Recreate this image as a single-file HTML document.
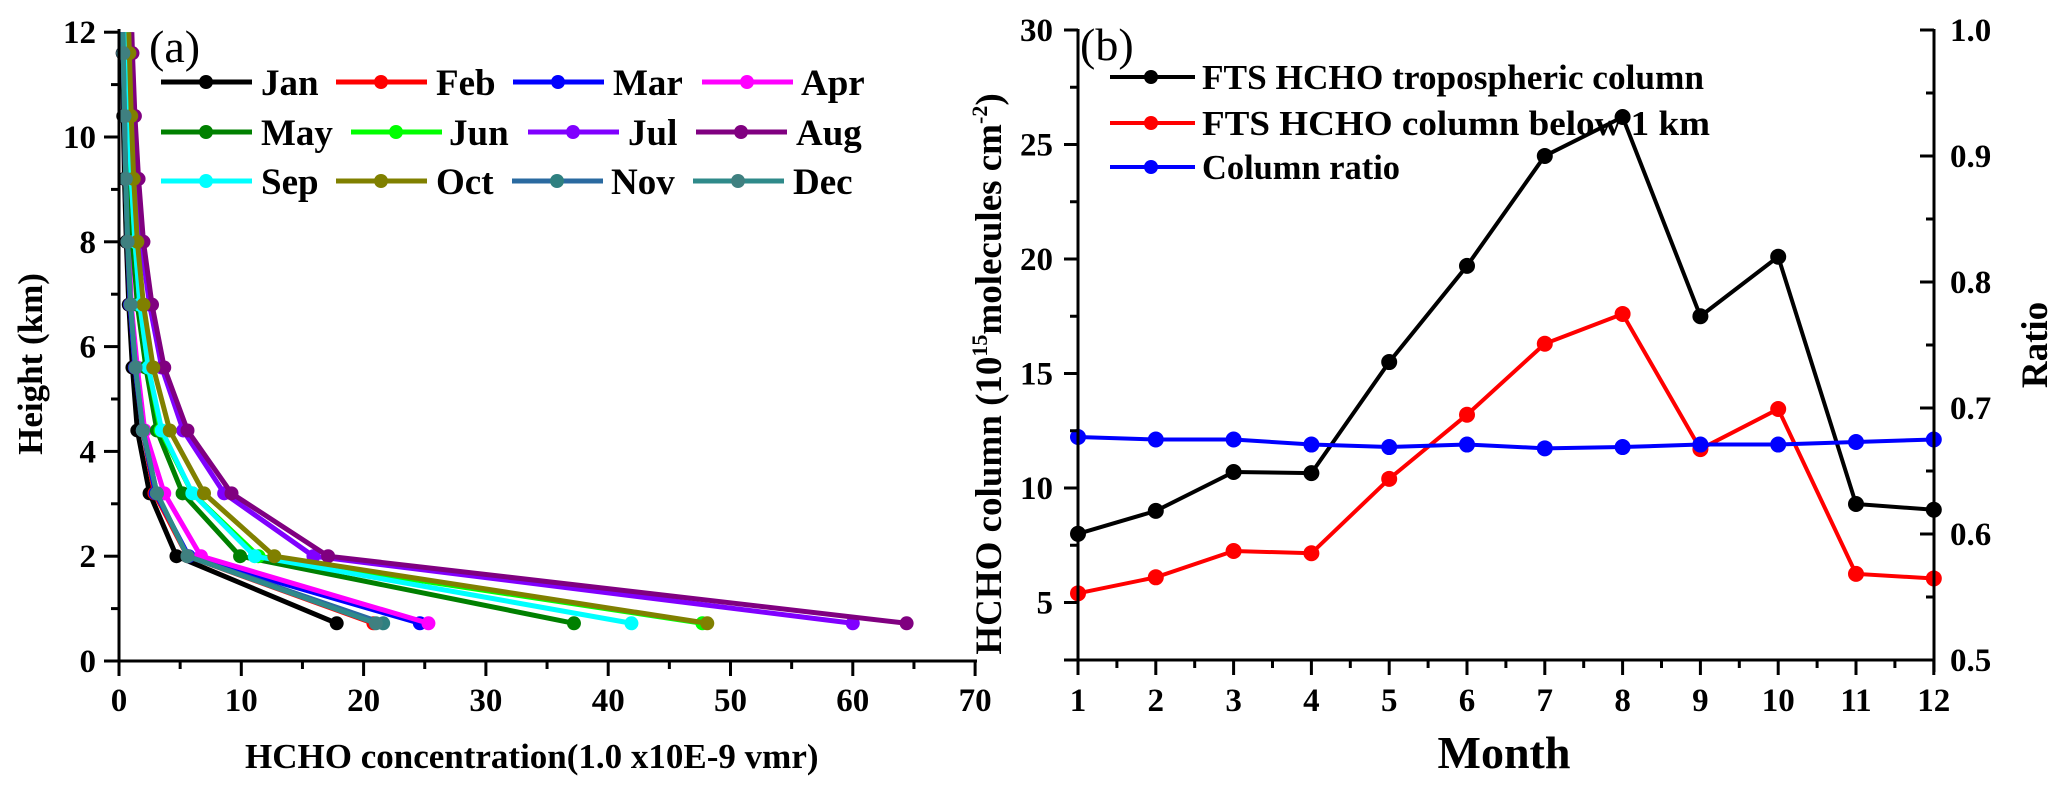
<!DOCTYPE html>
<html><head><meta charset="utf-8"><style>
body{margin:0;background:#fff}
svg{display:block;font-family:"Liberation Serif",serif}
</style></head><body>
<svg id="c" width="2067" height="796" viewBox="0 0 2067 796"></svg>
<script>
// ---- Panel (a) data ----
const heights=[0.72,2.0,3.2,4.4,5.6,6.8,8.0,9.2,10.4,11.6,12];
const months=["Jan","Feb","Mar","Apr","May","Jun","Jul","Aug","Sep","Oct","Nov","Dec"];
const profJan=[17.8,4.7,2.5,1.5,1.1,0.8,0.6,0.45,0.35,0.3,0.28];
const profFeb=[20.8,5.6,2.9,1.95,1.3,0.9,0.7,0.55,0.45,0.35,0.33];
const profMar=[24.6,5.7,3.0,1.95,1.3,0.9,0.7,0.55,0.45,0.35,0.33];
const profApr=[25.3,6.7,3.7,2.1,1.5,1.0,0.8,0.6,0.5,0.4,0.38];
const profMay=[37.2,9.9,5.2,3.1,2.2,1.5,1.1,0.85,0.7,0.6,0.55];
const profJun=[47.7,11.4,6.0,3.4,2.4,1.7,1.3,1.0,0.8,0.7,0.65];
const profJul=[60.0,15.9,8.6,5.25,3.5,2.5,1.8,1.4,1.15,1.0,0.95];
const profAug=[64.4,17.1,9.2,5.6,3.7,2.7,2.0,1.6,1.3,1.1,1.05];
const profSep=[41.9,11.1,6.0,3.5,2.4,1.7,1.3,1.0,0.8,0.7,0.65];
const profOct=[48.1,12.7,6.95,4.15,2.8,2.0,1.5,1.2,1.0,0.85,0.8];
const profNov=[21.6,5.6,3.1,1.95,1.35,0.95,0.7,0.55,0.45,0.35,0.33];
const profDec=[21.0,5.6,3.1,1.95,1.35,0.95,0.7,0.55,0.45,0.35,0.33];
const xTicksA=[0,10,20,30,40,50,60,70];
const yTicksA=[0,2,4,6,8,10,12];
// ---- Panel (b) data ----
const monthNums=[1,2,3,4,5,6,7,8,9,10,11,12];
const tropCol=[8.0,9.0,10.7,10.65,15.5,19.7,24.5,26.2,17.5,20.1,9.3,9.05];
const below1km=[5.4,6.1,7.25,7.15,10.4,13.2,16.3,17.6,11.7,13.45,6.25,6.05];
const ratio=[0.677,0.675,0.675,0.671,0.669,0.671,0.668,0.669,0.671,0.671,0.673,0.675];
const yTicksB=[5,10,15,20,25,30];
const yTicksR=["0.5","0.6","0.7","0.8","0.9","1.0"];

const NS="http://www.w3.org/2000/svg";
const svg=document.getElementById('c');
function mk(tag,attrs,parent){const e=document.createElementNS(NS,tag);for(const k in attrs)e.setAttribute(k,attrs[k]);(parent||svg).appendChild(e);return e;}
function txt(s,attrs,parent){const e=mk('text',attrs,parent);e.textContent=s;return e;}

// ===== Panel A =====
const ax=v=>119+v*12.23, ay=v=>661-v*52.4;
const gA=mk('g',{});


const profs=[profJan,profFeb,profMar,profApr,profMay,profJun,profJul,profAug,profSep,profOct,profNov,profDec];
const lineCols=["#000","#ff0000","#0000ff","#ff00ff","#008000","#00ff00","#8000ff","#800080","#00ffff","#808000","#2a6aa0","#2f8a8a"];
const mkCols=["#000","#ff0000","#0000ff","#ff00ff","#008000","#00ff00","#8000ff","#800080","#00ffff","#808000","#2f8080","#3f8080"];
profs.forEach((p,i)=>{
  const g=mk('g',{},gA);
  
  
  const pts=p.map((v,j)=>ax(v)+','+ay(heights[j])).join(' ');
  mk('polyline',{points:pts,fill:'none',stroke:lineCols[i],'stroke-width':5,'stroke-linejoin':'round'},g);
  p.forEach((v,j)=>{ if(j<p.length-1){const c=mk('circle',{cx:ax(v),cy:ay(heights[j]),r:7,fill:mkCols[i]},g);
    
    }});
});
// axes A
mk('line',{x1:119,y1:29,x2:119,y2:661,stroke:'#000','stroke-width':3},gA);
mk('line',{x1:104,y1:661,x2:977,y2:661,stroke:'#000','stroke-width':3},gA);
for(let v=0;v<=70;v+=5){mk('line',{x1:ax(v),y1:661,x2:ax(v),y2:v%10?669:676,stroke:'#000','stroke-width':3},gA);}
for(let v=0;v<=12;v+=1){mk('line',{x1:v%2?111:104,y1:ay(v),x2:119,y2:ay(v),stroke:'#000','stroke-width':3},gA);}
xTicksA.forEach(v=>{const t=txt(String(v),{x:ax(v),y:711,'font-size':33,'font-weight':'bold','text-anchor':'middle'},gA);
  });
yTicksA.forEach(v=>{const t=txt(String(v),{x:96,y:ay(v)+11,'font-size':33,'font-weight':'bold','text-anchor':'end'},gA);
  });
const xtA=txt('HCHO concentration(1.0 x10E-9 vmr)',{x:245,y:768,'font-size':35,'font-weight':'bold'},gA);

const ytA=txt('Height (km)',{x:0,y:0,'font-size':35,'font-weight':'bold','text-anchor':'middle',transform:'translate(42,364) rotate(-90)'},gA);

const la=txt('(a)',{x:149,y:62,'font-size':46},gA);

// legend A
const legLineX=[161,336,513,702,161,351,528,696,161,336,512,693];
const legTextX=[261,436,613,801,261,449,628,796,261,436,611,793];
const legY=[82,132,181];
months.forEach((m,i)=>{
  const row=Math.floor(i/4);const x=legLineX[i],y=legY[row];
  const g=mk('g',{},gA);
  
  
  mk('line',{x1:x,y1:y,x2:x+91,y2:y,stroke:lineCols[i],'stroke-width':5},g);
  mk('circle',{cx:x+45,cy:y,r:7,fill:mkCols[i]},g);
  txt(m,{x:legTextX[i],y:y+13,'font-size':37,'font-weight':'bold'},g);
});

// ===== Panel B =====
const bx=m=>1078+(m-1)*77.8, by=v=>717-v*22.9, br=r=>660-(r-0.5)*1260;
const gB=mk('g',{});


function series(vals,yf,color,name){
  const g=mk('g',{},gB);
  
  
  mk('polyline',{points:vals.map((v,i)=>bx(monthNums[i])+','+yf(v)).join(' '),fill:'none',stroke:color,'stroke-width':4},g);
  vals.forEach((v,i)=>{const c=mk('circle',{cx:bx(monthNums[i]),cy:yf(v),r:8,fill:color},g);
    
    });
}
series(tropCol,by,'#000','series-tropospheric-column');
series(below1km,by,'#ff0000','series-column-below-1km');
series(ratio,br,'#0000ff','series-column-ratio');
// axes B
mk('line',{x1:1078,y1:29,x2:1078,y2:661,stroke:'#000','stroke-width':3},gB);
mk('line',{x1:1934,y1:29,x2:1934,y2:672,stroke:'#000','stroke-width':3},gB);
mk('line',{x1:1064,y1:660,x2:1935,y2:660,stroke:'#000','stroke-width':3},gB);
for(let m=1;m<=12;m+=0.5){mk('line',{x1:bx(m),y1:660,x2:bx(m),y2:m%1?668:675,stroke:'#000','stroke-width':3},gB);}
for(let v=5;v<=30;v+=2.5){mk('line',{x1:v%5?1070:1064,y1:by(v),x2:1078,y2:by(v),stroke:'#000','stroke-width':3},gB);}
for(let i=0;i<=10;i++){const r=0.5+i*0.05;mk('line',{x1:1934,y1:br(r),x2:i%2?1926:1920,y2:br(r),stroke:'#000','stroke-width':3},gB);}
monthNums.forEach(m=>{const t=txt(String(m),{x:bx(m),y:711,'font-size':33,'font-weight':'bold','text-anchor':'middle'},gB);
  });
yTicksB.forEach(v=>{const t=txt(String(v),{x:1053,y:by(v)+11,'font-size':33,'font-weight':'bold','text-anchor':'end'},gB);
  });
yTicksR.forEach(s=>{const t=txt(s,{x:1950,y:br(parseFloat(s))+11,'font-size':33,'font-weight':'bold'},gB);
  });
const mt=txt('Month',{x:1504,y:768,'font-size':46,'font-weight':'bold','text-anchor':'middle'},gB);

const rt=txt('Ratio',{x:0,y:0,'font-size':37,'font-weight':'bold','text-anchor':'middle',transform:'translate(2047,345) rotate(-90)'},gB);

const yt=mk('text',{x:0,y:0,'font-size':37,'font-weight':'bold','text-anchor':'middle',transform:'translate(1001,374) rotate(-90)'},gB);

yt.innerHTML='HCHO  column (10<tspan font-size="22" dy="-14">15</tspan><tspan dy="14">molecules cm</tspan><tspan font-size="22" dy="-14">-2</tspan><tspan dy="14">)</tspan>';
const lb=txt('(b)',{x:1080,y:60,'font-size':46},gB);

const legB=[["FTS HCHO  tropospheric column","#000",77,502],["FTS HCHO column below  1 km","#ff0000",123,508],["Column  ratio","#0000ff",167,198]];
legB.forEach(([s,c,y,w])=>{
  const g=mk('g',{},gB);
  
  
  mk('line',{x1:1110,y1:y,x2:1195,y2:y,stroke:c,'stroke-width':4},g);
  mk('circle',{cx:1151,cy:y,r:7,fill:c},g);
  txt(s,{x:1202,y:y+12,'font-size':35,'font-weight':'bold',textLength:w,lengthAdjust:'spacingAndGlyphs'},g);
});
</script>
</body></html>
